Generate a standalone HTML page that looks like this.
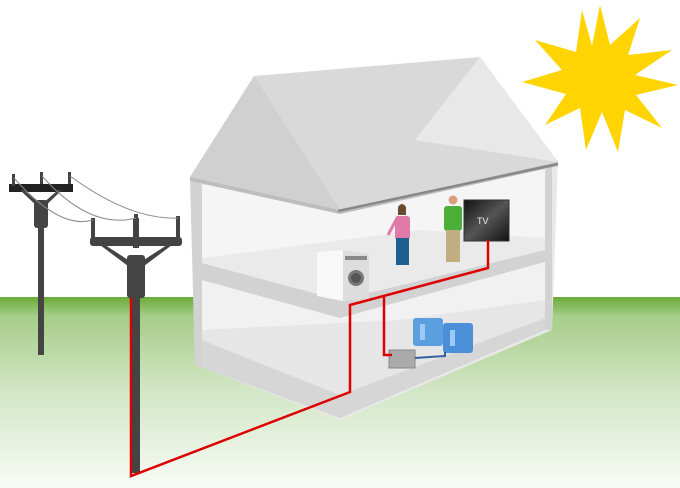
<!DOCTYPE html>
<html><head><meta charset="utf-8"><style>
html,body{margin:0;padding:0;background:#fff}
svg{display:block}
</style></head><body>
<svg width="680" height="488" viewBox="0 0 680 488" xmlns="http://www.w3.org/2000/svg">
<defs>
<linearGradient id="g" x1="0" y1="0" x2="0" y2="1">
<stop offset="0" stop-color="#6aab38"/><stop offset="0.1" stop-color="#a6cd8a"/>
<stop offset="0.5" stop-color="#d3e7c6"/><stop offset="1" stop-color="#f8fbf6"/>
</linearGradient>
<linearGradient id="tv" x1="0" y1="0" x2="1" y2="1"><stop offset="0" stop-color="#111"/><stop offset="0.5" stop-color="#555"/><stop offset="1" stop-color="#111"/></linearGradient>
</defs>
<rect x="0" y="297" width="680" height="191" fill="url(#g)"/>
<!-- sun -->
<polygon fill="#ffd400" points="600,5 610,45 640,18 628,55 672,50 635,75 678,85 636,95 662,128 625,110 618,152 602,112 586,150 580,108 545,125 566,94 522,82 562,70 535,40 576,52 582,10 592,46" />
<circle cx="600" cy="80" r="26" fill="#ffd400"/>
<!-- house walls -->
<polygon points="190,177 558,160 552,330 340,420 195,365" fill="#e8e8e8"/>
<polygon points="202,185 545,170 545,250 340,300 202,262" fill="#f5f5f5"/>
<polygon points="202,280 340,318 545,258 545,322 340,405 202,350" fill="#f1f1f1"/>
<!-- ground floor -->
<polygon points="202,340 340,395 545,318 545,330 340,418 195,365 195,340" fill="#d6d6d6"/>
<polygon points="202,330 400,320 545,300 545,318 340,395 202,340" fill="#e6e6e6"/>
<!-- middle floor -->
<polygon points="202,263 340,300 545,250 545,262 340,318 202,280" fill="#d2d2d2"/>
<polygon points="202,258 420,230 545,238 545,250 340,300 202,263" fill="#eaeaea"/>
<!-- outer walls -->
<polygon points="190,177 202,185 202,365 195,365" fill="#d2d2d2"/>
<polygon points="545,170 552,165 552,330 545,330" fill="#d2d2d2"/>
<!-- roof -->
<polygon points="190,177 254,76 480,57 558,162 340,210" fill="#d9d9d9"/>
<polygon points="254,76 190,177 340,210" fill="#d0d0d0"/>
<polygon points="480,57 558,162 415,140" fill="#e8e8e8"/>
<polygon points="190,177 340,210 558,162 558,166 340,214 190,181" fill="#bdbdbd"/>
<line x1="338" y1="211" x2="558" y2="164" stroke="#888" stroke-width="2.5"/>
<!-- washer -->
<polygon points="317,252 343,250 369,254 369,298 343,301 317,296" fill="#f8f8f8"/>
<polygon points="343,250 369,254 369,298 343,301" fill="#ddd"/>
<circle cx="356" cy="278" r="8" fill="#777"/><circle cx="356" cy="278" r="5" fill="#555"/>
<rect x="345" y="256" width="22" height="4" fill="#888"/>
<!-- woman -->
<circle cx="402" cy="210" r="4" fill="#d9a080"/><path d="M398,207 q4,-6 8,0 l0,8 -8,0z" fill="#6b4a2e"/>
<rect x="395" y="216" width="15" height="24" rx="3" fill="#e07aa8"/>
<rect x="396" y="238" width="13" height="27" fill="#1f5f8f"/>
<line x1="396" y1="220" x2="388" y2="235" stroke="#e07aa8" stroke-width="3"/>
<!-- man -->
<circle cx="453" cy="200" r="4.5" fill="#d9a080"/>
<rect x="444" y="206" width="18" height="25" rx="3" fill="#4caf3a"/>
<rect x="446" y="230" width="14" height="32" fill="#c0ad80"/>
<!-- TV -->
<rect x="464" y="200" width="45" height="41" fill="url(#tv)" stroke="#333"/>
<text x="477" y="224" font-family="Liberation Sans, sans-serif" font-size="9" fill="#eee">TV</text>
<!-- batteries -->
<rect x="413" y="318" width="30" height="28" rx="3" fill="#5a9fe0"/>
<rect x="443" y="323" width="30" height="30" rx="3" fill="#4a8fd8"/>
<rect x="420" y="324" width="5" height="16" fill="#9cc9f5"/><rect x="450" y="330" width="5" height="16" fill="#9cc9f5"/>
<!-- inverter -->
<rect x="389" y="350" width="26" height="18" fill="#aaa" stroke="#888"/>
<polyline points="415,358 445,356 445,352" fill="none" stroke="#3060a0" stroke-width="2"/>
<!-- poles -->
<g fill="#444">
<rect x="38" y="200" width="6" height="155"/>
<rect x="9" y="184" width="64" height="8" fill="#222"/>
<rect x="34" y="200" width="14" height="28" rx="3"/>
<polygon points="24,190 41,205 58,190 62,190 41,210 20,190"/>
<rect x="12" y="174" width="3" height="12"/><rect x="40" y="172" width="3" height="12"/><rect x="68" y="172" width="3" height="12"/>
<rect x="131" y="290" width="9" height="183"/>
<rect x="90" y="237" width="92" height="9" rx="3"/>
<rect x="127" y="255" width="18" height="43" rx="3"/>
<polygon points="105,245 136,265 167,245 172,245 136,272 100,245"/>
<rect x="133" y="218" width="6" height="30"/>
<rect x="91" y="218" width="4" height="20"/><rect x="134" y="214" width="4" height="10"/><rect x="176" y="216" width="4" height="22"/>
</g>
<!-- red wires -->
<g stroke="#d00" stroke-width="2.5" fill="none">
<polyline points="131,298 131,476 350,392 350,305 488,268 488,240"/>
<polyline points="384,296 384,355 392,355"/>
</g>
<g stroke="#888" fill="none" stroke-width="1">
<path d="M14,178 Q60,230 93,220"/><path d="M42,176 Q90,230 136,218"/><path d="M70,176 Q130,220 178,218"/>
</g>
</svg>
</body></html>
